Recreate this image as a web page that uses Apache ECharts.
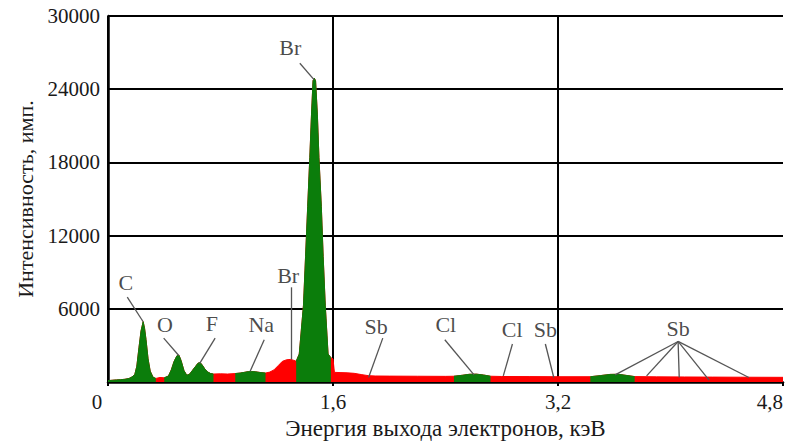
<!DOCTYPE html>
<html>
<head>
<meta charset="utf-8">
<script src="https://cdn.jsdelivr.net/npm/echarts@6/dist/echarts.min.js"></script>
<style>
html,body{margin:0;padding:0;background:#fff;}
#chart{width:786px;height:445px;}
</style>
</head>
<body>
<div id="chart"></div>
<script>
// Spectrum (energy in keV, intensity in counts)
const energy = [0.00,0.03,0.06,0.09,0.12,0.15,0.17,0.19,0.205,0.22,0.235,0.25,0.26,0.27,0.285,0.30,0.32,0.34,0.37,0.40,
  0.43,0.45,0.47,0.49,0.505,0.52,0.54,0.56,0.58,0.60,0.62,0.64,0.655,0.67,0.69,0.71,0.73,0.75,0.80,0.85,
  0.905,0.94,0.97,1.00,1.02,1.05,1.08,1.12,1.15,1.18,1.21,1.24,1.27,1.30,1.33,1.338,1.36,1.39,1.405,1.42,
  1.435,1.447,1.458,1.467,1.476,1.489,1.50,1.517,1.53,1.545,1.565,1.585,1.60,1.61,1.65,1.70,1.75,1.80,1.85,1.90,
  2.00,2.20,2.40,2.46,2.52,2.57,2.62,2.67,2.72,2.80,3.00,3.20,3.43,3.50,3.57,3.63,3.69,3.745,3.90,4.10,
  4.30,4.50,4.80];
const counts = [120,150,180,200,230,300,420,600,1300,2800,4200,4950,4400,3500,1900,900,400,300,380,350,
  500,1000,1700,2150,2200,1750,950,560,650,950,1250,1550,1600,1400,1050,820,700,660,680,660,
  700,740,800,860,870,840,790,740,820,1000,1350,1700,1830,1860,1750,1700,2300,6300,10300,14400,
  18400,21900,24700,24900,24700,21900,18400,14400,10300,6300,2300,2000,1900,800,780,760,720,620,530,500,
  490,480,470,480,560,640,650,580,480,460,450,440,440,530,630,640,540,450,430,420,
  410,400,390];
// Energy ranges drawn in green (identified peaks)
const greenFrom = [0.00, 0.40, 0.905, 1.338, 2.46, 3.43];
const greenTo   = [0.34, 0.75, 1.12, 1.585, 2.72, 3.745];

// Tick labels
const xTicks = ['0','1,6','3,2','4,8'];
const yTicks = ['6000','12000','18000','24000','30000'];

// Annotation labels (element, label position, keV / counts)
const annText = ['C','O','F','Na','Br','Br','Sb','Cl','Cl','Sb','Sb'];
const annX    = [0.127,0.404,0.738,1.090,1.281,1.296,1.907,2.402,2.874,3.110,4.054];
const annY    = [8150,4680,4815,4680,8710,27420,4540,4680,4330,4330,4410];
// Leader lines: start (x1,y1) -> end (x2,y2)
const lineX1 = [0.137,0.396,0.762,1.111,1.300,1.364,1.954,2.395,2.876,3.110,4.054,4.054,4.054,4.054,4.054];
const lineY1 = [6960,3605,3605,3468,7767,26131,3605,3468,3121,3121,3331,3331,3331,3331,3331];
const lineX2 = [0.250,0.503,0.651,1.010,1.300,1.465,1.853,2.603,2.811,3.170,3.606,3.830,4.062,4.274,4.557];
const lineY2 = [4944,2178,1508,863,1855,24784,379,589,508,379,589,508,379,161,379];

const FONT = 'Liberation Serif';
const TXT = '#1a1a1a';

function inGreen(e){
  for (let i=0;i<greenFrom.length;i++){ if (e>=greenFrom[i]-1e-9 && e<=greenTo[i]+1e-9) return true; }
  return false;
}
const fullData = energy.map((e,i)=>[e,counts[i]]);
const greenData = energy.map((e,i)=> inGreen(e) ? [e,counts[i]] : [e,null]);
const annData = annText.map((t,i)=>[annX[i],annY[i],t]);
const lineData = lineX1.map((x,i)=>[{coord:[x,lineY1[i]]},{coord:[lineX2[i],lineY2[i]]}]);

const chart = echarts.init(document.getElementById('chart'), null, {renderer:'svg'});
chart.setOption({
  animation:false,
  backgroundColor:'#fff',
  grid:{left:108, right:0, top:16, bottom:55.5, containLabel:false},
  xAxis:{
    type:'value', min:0, max:4.8, interval:1.6,
    name:'Энергия выхода электронов, кэВ', nameLocation:'middle', nameGap:30,
    nameTextStyle:{fontFamily:FONT, fontSize:23, color:TXT},
    axisLine:{show:true, lineStyle:{color:'#000', width:2.5}},
    axisTick:{show:true, length:4, lineStyle:{color:'#000', width:2}},
    axisLabel:{
      margin:9, fontFamily:FONT, fontSize:21, color:TXT,
      formatter:(v)=>{ const idx=Math.round(v/1.6); return idx===0 ? '{z|'+xTicks[0]+'}' : xTicks[idx]; },
      rich:{z:{fontFamily:FONT, fontSize:21, color:TXT, padding:[0,22,0,0]}},
      alignMaxLabel:'right'
    },
    splitLine:{show:true, showMaxLine:false, lineStyle:{color:'#000', width:2}}
  },
  yAxis:{
    type:'value', min:0, max:30000, interval:6000,
    name:'Интенсивность, имп.', nameLocation:'middle', nameGap:70, nameRotate:90,
    nameTextStyle:{fontFamily:FONT, fontSize:22, color:TXT},
    axisLine:{show:true, lineStyle:{color:'#000', width:2.5}},
    axisTick:{show:false},
    axisLabel:{
      margin:8, fontFamily:FONT, fontSize:21, color:TXT, showMinLabel:false,
      formatter:(v)=>{ const idx=Math.round(v/6000); return idx===0 ? '' : yTicks[idx-1]; }
    },
    splitLine:{show:true, lineStyle:{color:'#000', width:2}}
  },
  series:[
    {
      type:'line', name:'spectrum', data:fullData, symbol:'none', z:2,
      lineStyle:{color:'#ff0000', width:1},
      areaStyle:{color:'#ff0000', opacity:1}
    },
    {
      type:'line', name:'peaks', data:greenData, symbol:'none', connectNulls:false, z:3,
      lineStyle:{color:'#0b7d0b', width:1},
      areaStyle:{color:'#0b7d0b', opacity:1}
    },
    {
      type:'line', name:'leaders', data:[], z:5, symbol:'none',
      markLine:{
        silent:true, symbol:['none','none'], animation:false,
        label:{show:false},
        lineStyle:{color:'#555', width:1.3, type:'solid'},
        emphasis:{disabled:true},
        data:lineData
      }
    },
    {
      type:'scatter', name:'labels', data:annData, symbolSize:1, z:6,
      itemStyle:{color:'rgba(0,0,0,0)'},
      label:{show:true, position:'inside', formatter:(p)=>p.data[2],
        fontFamily:FONT, fontSize:22, color:TXT}
    }
  ]
});
</script>
</body>
</html>
